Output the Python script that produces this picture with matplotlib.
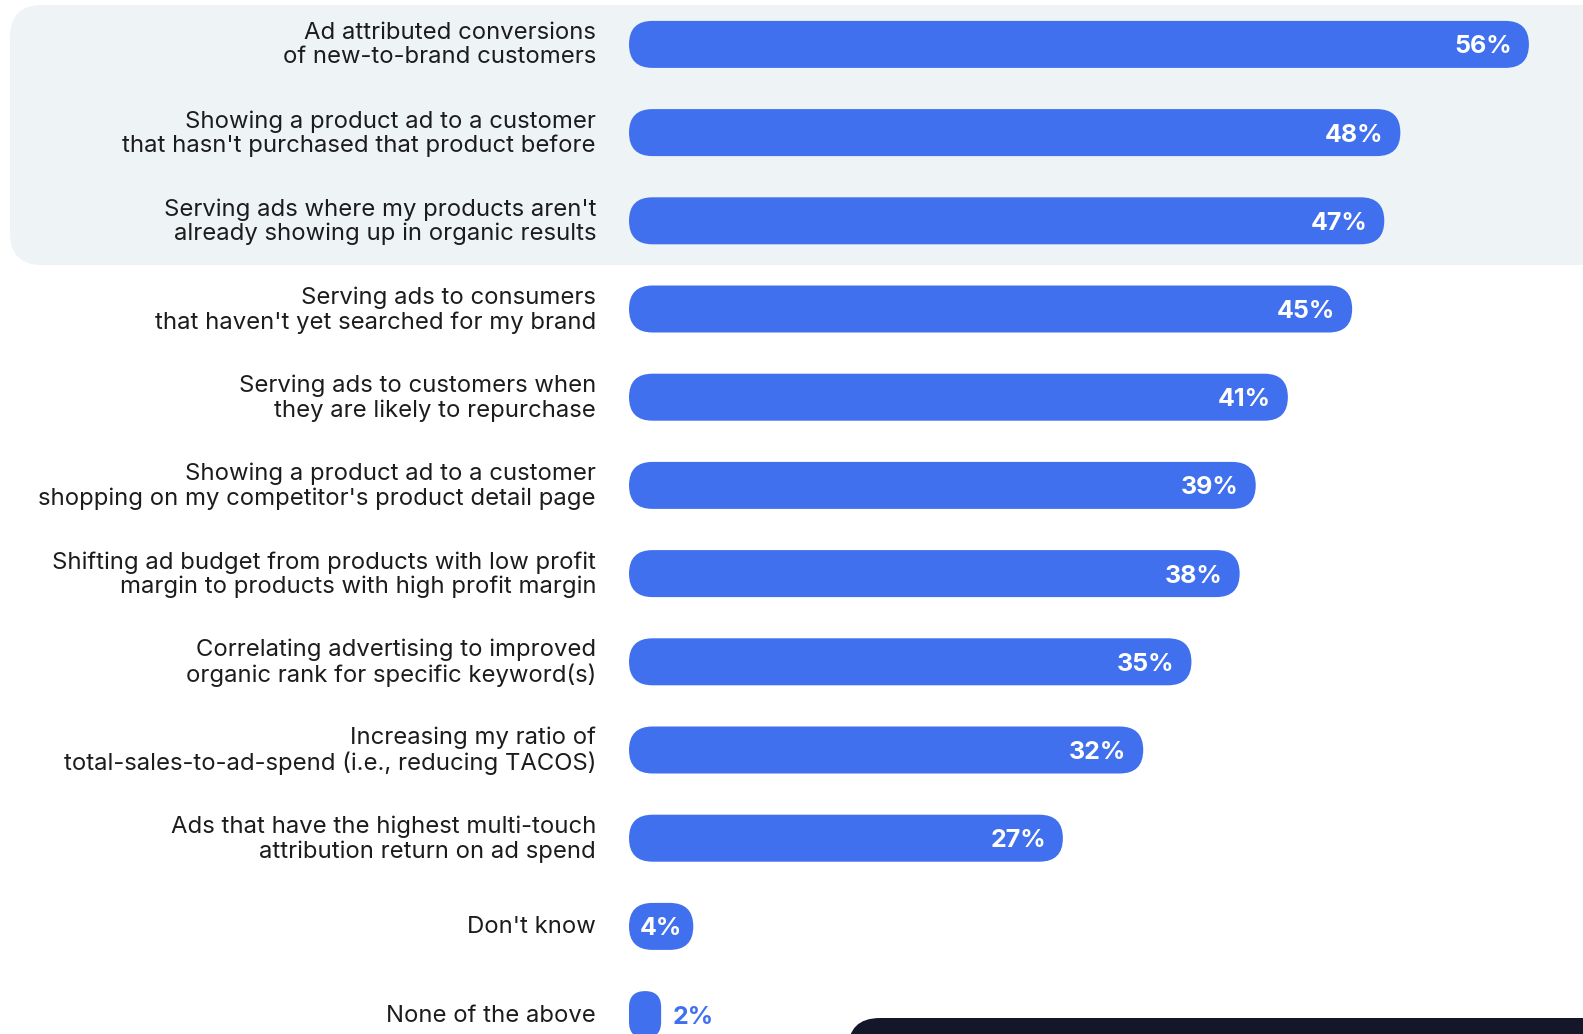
import matplotlib.pyplot as plt
from matplotlib.patches import FancyBboxPatch

# survey answers, top to bottom
labels = [
    "Ad attributed conversions\nof new-to-brand customers",
    "Showing a product ad to a customer\nthat hasn't purchased that product before",
    "Serving ads where my products aren't\nalready showing up in organic results",
    "Serving ads to consumers\nthat haven't yet searched for my brand",
    "Serving ads to customers when\nthey are likely to repurchase",
    "Showing a product ad to a customer\nshopping on my competitor's product detail page",
    "Shifting ad budget from products with low profit\nmargin to products with high profit margin",
    "Correlating advertising to improved\norganic rank for specific keyword(s)",
    "Increasing my ratio of\ntotal-sales-to-ad-spend (i.e., reducing TACOS)",
    "Ads that have the highest multi-touch\nattribution return on ad spend",
    "Don't know",
    "None of the above",
]
values = [56, 48, 47, 45, 41, 39, 38, 35, 32, 27, 4, 2]

BLUE = "#4170EF"
PANEL = "#EEF3F6"
DARK = "#141729"
TEXT = "#1c1c1c"

# layout in pixels
W, H = 1583, 1034
PX = 16.07      # pixels per percentage point
X0 = 629        # pixel position of 0 %
ROW = 88.2      # pixels between rows
Y0 = 44.4       # pixel centre of first row
BAR_H = 47 / ROW
R = 23.5        # bar corner radius, px

fig = plt.figure(figsize=(W / 100, H / 100), dpi=100)
ax = fig.add_axes([0, 0, 1, 1])
ax.set_xlim(-X0 / PX, (W - X0) / PX)
ax.set_ylim((H - Y0) / ROW, -Y0 / ROW)
ax.axis("off")
aspect = PX / ROW


def pill(x, y, w, h, r_px, **kw):
    r = min(r_px / PX, w / 2)
    p = FancyBboxPatch((x, y), w, h, boxstyle=f"round,pad=0,rounding_size={r}",
                       mutation_aspect=aspect, linewidth=0, **kw)
    ax.add_patch(p)
    return p


# shaded panel behind the first three answers
top = (5 - Y0) / ROW
bot = (265 - Y0) / ROW
pill((10 - X0) / PX, top, (W + 200 - 10) / PX, bot - top, 32, facecolor=PANEL, zorder=0)

# dark panel peeking in at the bottom
pill((848 - X0) / PX, (1018 - Y0) / ROW, (W + 200 - 848) / PX, 2.0, 32,
     facecolor=DARK, zorder=0)

dy = 2.5 / ROW  # nudge value labels down onto the bar centre
for i, (lab, v) in enumerate(zip(labels, values)):
    pill(0, i - BAR_H / 2, v, BAR_H, R, facecolor=BLUE, zorder=2)
    ax.text(-33 / PX, i + 1 / ROW, lab, ha="right", va="center", fontsize=17.2,
            color=TEXT, linespacing=1.12, family="Inter", zorder=3)
    if v >= 8:
        ax.text(v - 17 / PX, i + dy, f"{v}%", ha="right", va="center", fontsize=18,
                color="white", fontweight="bold", family="Inter", zorder=3)
    elif v >= 4:
        ax.text(v / 2, i + dy, f"{v}%", ha="center", va="center", fontsize=18,
                color="white", fontweight="bold", family="Inter", zorder=3)
    else:
        ax.text(v + 11 / PX, i + dy, f"{v}%", ha="left", va="center", fontsize=18,
                color=BLUE, fontweight="bold", family="Inter", zorder=3)

fig.savefig("out.png", dpi=100)
